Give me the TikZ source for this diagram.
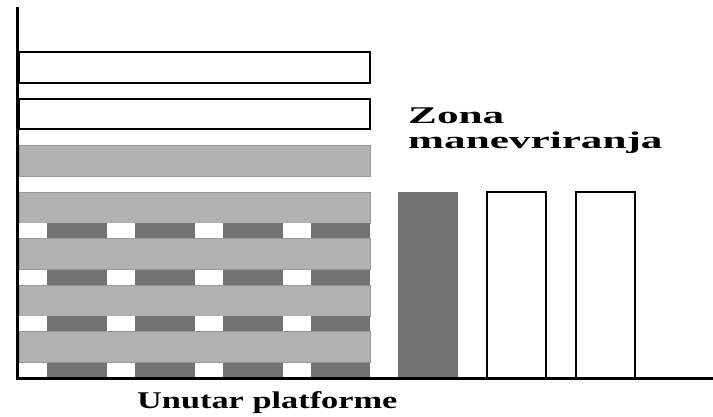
\documentclass[tikz,border=0pt]{standalone}
\usepackage{fontspec}
\setmainfont{Liberation Serif}
\usetikzlibrary{positioning}
\definecolor{slotlight}{RGB}{178,178,178}
\definecolor{slotdark}{RGB}{115,115,115}

\begin{document}
\begin{tikzpicture}[x=1pt,y=-1pt,
  slotwhite/.style={draw=black,line width=1.5pt,fill=white},
  slotgray/.style={draw=slotlight!85!black,line width=0.8pt,fill=slotlight},
  zonetext/.style={font=\fontsize{24}{28}\selectfont\bfseries,inner sep=0pt}]
  \useasboundingbox (0,0) rectangle (713,416);
  % Top rows
  \draw[slotwhite] (19,52) rectangle (370,83);
  \draw[slotwhite] (19,99) rectangle (370,129);
  \draw[slotgray] (19,145) rectangle (370,176);
  % Packed rows with gaps between them
  \foreach \y in {192,238.5,285,331.5} {
    \draw[slotgray] (19,\y) rectangle (370,\y+31);
    \fill[slotdark] (19,\y+31) rectangle (370,\y+46.5);
    \foreach \x in {19,107,195,283}
      \fill[white] (\x,\y+31) rectangle (\x+28,\y+46.5);
  }
  % Right side slots
  \fill[slotdark] (398,192) rectangle (458,378);
  \draw[slotwhite] (487,192) rectangle (546,378);
  \draw[slotwhite] (576,192) rectangle (635,378);
  % Axes
  \draw[line width=3pt] (17,7) |- (713,378);
  % Labels
  \node[zonetext,anchor=base west] (zona) at (408,123) {\scalebox{1.8}[1]{Zona}};
  \node[zonetext,anchor=base west] (manevr) at (408,148) {\scalebox{1.8}[1]{manevriranja}};
  \node[zonetext,anchor=base west] (platforma) at (137,408) {\scalebox{1.43}[1]{Unutar platforme}};
\end{tikzpicture}
\end{document}
